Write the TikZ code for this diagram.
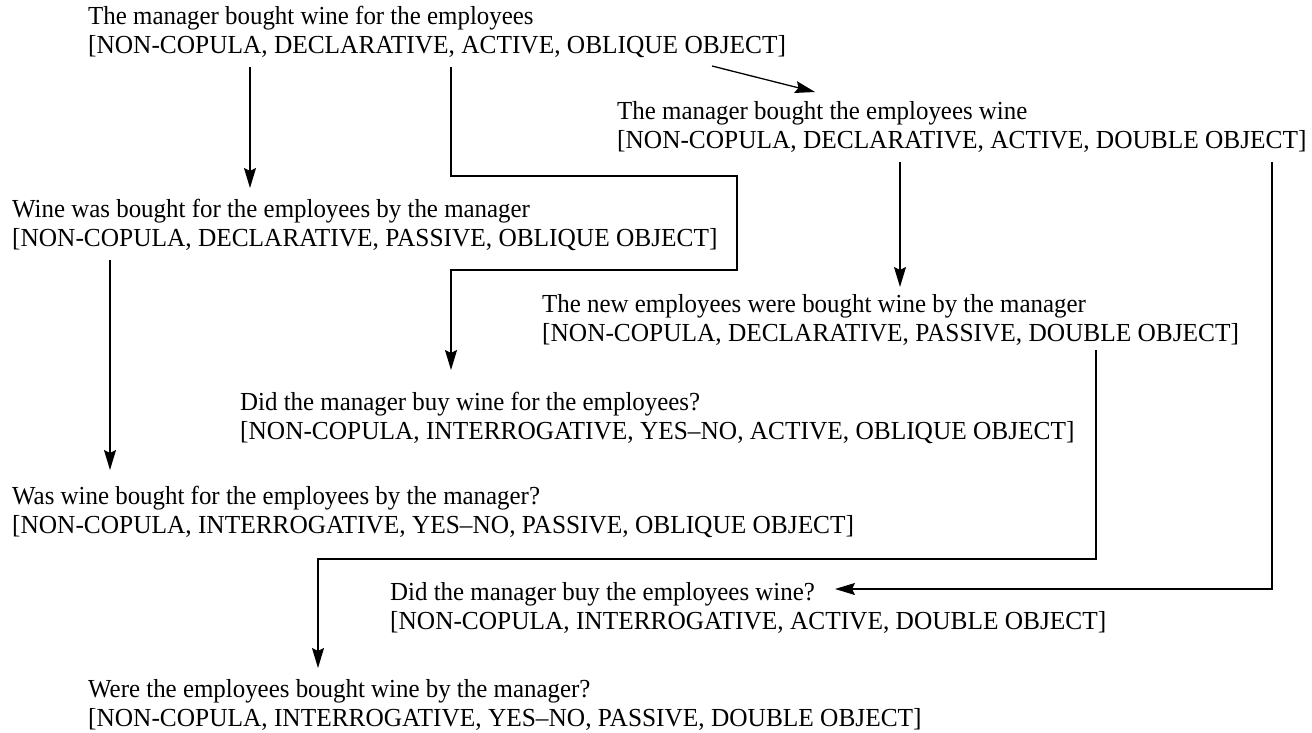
\documentclass[tikz,border=0pt]{standalone}
\usepackage{fontspec}
\setmainfont{Liberation Serif}
\newfontfamily\sentfont[FakeStretch=0.958]{Liberation Serif}
\newfontfamily\tagfont[FakeStretch=0.975]{Liberation Serif}
\usetikzlibrary{arrows.meta}
\tikzset{
  sent/.style={anchor=base west, inner sep=0pt, font=\sentfont\fontsize{26}{29}\selectfont},
  tagline/.style={anchor=base west, inner sep=0pt, font=\tagfont\fontsize{26}{29}\selectfont},
  link/.style={line width=1.3pt, -{Stealth[length=20pt,width=12pt,inset=3pt]}}
}
\begin{document}
\begin{tikzpicture}[x=1pt,y=-1pt]
\useasboundingbox (0,0) rectangle (1312,733);

% sentences and their feature tags
\node[sent]    (A1) at (88,25) {The manager bought wine for the employees};
\node[tagline] (A2) at (88,54) {[NON-COPULA, DECLARATIVE, ACTIVE, OBLIQUE OBJECT]};
\node[sent]    (B1) at (617,120) {The manager bought the employees wine};
\node[tagline] (B2) at (617,149) {[NON-COPULA, DECLARATIVE, ACTIVE, DOUBLE OBJECT]};
\node[sent]    (C1) at (12,217) {Wine was bought for the employees by the manager};
\node[tagline] (C2) at (12,246) {[NON-COPULA, DECLARATIVE, PASSIVE, OBLIQUE OBJECT]};
\node[sent]    (D1) at (542,312) {The new employees were bought wine by the manager};
\node[tagline] (D2) at (542,341) {[NON-COPULA, DECLARATIVE, PASSIVE, DOUBLE OBJECT]};
\node[sent]    (E1) at (240,410) {Did the manager buy wine for the employees?};
\node[tagline] (E2) at (240,439) {[NON-COPULA, INTERROGATIVE, YES\textendash NO, ACTIVE, OBLIQUE OBJECT]};
\node[sent]    (F1) at (12,504) {Was wine bought for the employees by the manager?};
\node[tagline] (F2) at (12,533) {[NON-COPULA, INTERROGATIVE, YES\textendash NO, PASSIVE, OBLIQUE OBJECT]};
\node[sent]    (G1) at (390,600) {Did the manager buy the employees wine?};
\node[tagline] (G2) at (390,629) {[NON-COPULA, INTERROGATIVE, ACTIVE, DOUBLE OBJECT]};
\node[sent]    (H1) at (88,697) {Were the employees bought wine by the manager?};
\node[tagline] (H2) at (88,726) {[NON-COPULA, INTERROGATIVE, YES\textendash NO, PASSIVE, DOUBLE OBJECT]};

% connector ends
\coordinate (aC) at (250,67);   \coordinate (cTop) at (250,188);
\coordinate (aE) at (451,67);   \coordinate (eTop) at (451,370);
\coordinate (aB) at (712,66);   \coordinate (bTop) at (815,92);
\coordinate (bD) at (900,162);  \coordinate (dTop) at (900,287);
\coordinate (bG) at (1272,162); \coordinate (gRight) at (835,589);
\coordinate (cF) at (110,260);  \coordinate (fTop) at (110,470);
\coordinate (dH) at (1096,350); \coordinate (hTop) at (318,668);

\draw[link] (aC) -- (cTop);
\draw[link] (aE) -- (451,176) -- (737,176) -- (737,270) -- (451,270) -- (eTop);
\draw[link] (aB) -- (bTop);
\draw[link] (bD) -- (dTop);
\draw[link] (bG) |- (gRight);
\draw[link] (cF) -- (fTop);
\draw[link] (dH) -- (1096,559) -| (hTop);
\end{tikzpicture}
\end{document}
